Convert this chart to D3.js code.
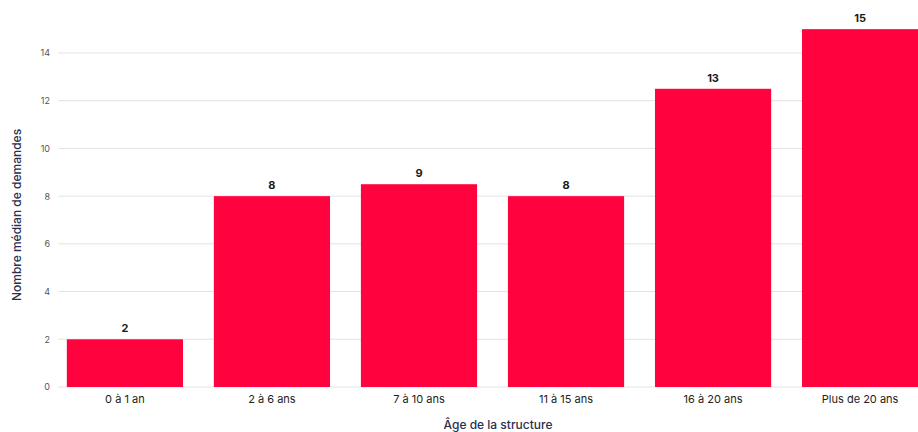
<!DOCTYPE html>
<html><head><meta charset="utf-8">
<script src="https://cdn.jsdelivr.net/npm/d3@7"></script>
<style>
body{margin:0;background:#fff;}
svg{display:block;font-family:Inter,"Noto Sans",sans-serif;}
</style></head>
<body><svg id="chart" width="918" height="432"></svg>
<script>
const categories = ["0 à 1 an","2 à 6 ans","7 à 10 ans","11 à 15 ans","16 à 20 ans","Plus de 20 ans"];
const values = [2, 8, 8.5, 8, 12.5, 15];
const yTicks = [0, 2, 4, 6, 8, 10, 12, 14];
const yTitle = "Nombre médian de demandes";
const xTitle = "Âge de la structure";

const svg = d3.select("#chart");
const x = d3.scaleBand().domain(categories).range([58, 927]).paddingInner(0.21).paddingOuter(0.06);
const y = d3.scaleLinear().domain([0, 14]).range([387, 53]);

// grid
svg.append("g").selectAll("line").data(yTicks).join("line")
  .attr("x1", 58).attr("x2", 918)
  .attr("y1", d => y(d)).attr("y2", d => y(d))
  .attr("stroke", "#e3e3e6").attr("stroke-width", 1);

// y axis labels
const yAxis = d3.axisLeft(y).tickValues(yTicks).tickSize(0).tickPadding(8);
const ga = svg.append("g").attr("transform", "translate(58,0)").call(yAxis);
ga.select(".domain").remove();
ga.selectAll("text").attr("font-size", 9).attr("fill", "#555").attr("font-family", "Inter,sans-serif");

// bars
svg.append("g").selectAll("rect").data(values).join("rect")
  .attr("x", (d, i) => x(categories[i]))
  .attr("width", x.bandwidth())
  .attr("y", d => y(d))
  .attr("height", d => y(0) - y(d))
  .attr("fill", "#ff033e");

// value labels
svg.append("g").selectAll("text").data(values).join("text")
  .attr("x", (d, i) => x(categories[i]) + x.bandwidth() / 2)
  .attr("y", d => y(d) - 7)
  .attr("text-anchor", "middle")
  .attr("font-size", 11).attr("font-weight", 700).attr("fill", "#1a1a1a")
  .text(d => Math.round(d));

// x axis labels
const xAxis = d3.axisBottom(x).tickSize(0).tickPadding(8);
const gx = svg.append("g").attr("transform", `translate(0,${y(0)})`).call(xAxis);
gx.select(".domain").remove();
gx.selectAll("text").attr("font-size", 11).attr("fill", "#222").attr("font-family", "Inter,sans-serif");

// titles
svg.append("text").attr("transform", "translate(21,215) rotate(-90)")
  .attr("text-anchor", "middle").attr("font-size", 12).attr("font-weight", 500)
  .attr("fill", "#2b2f4f").text(yTitle);
svg.append("text").attr("x", 498).attr("y", 429)
  .attr("text-anchor", "middle").attr("font-size", 12).attr("font-weight", 500)
  .attr("fill", "#2b2f4f").text(xTitle);
</script></body></html>
